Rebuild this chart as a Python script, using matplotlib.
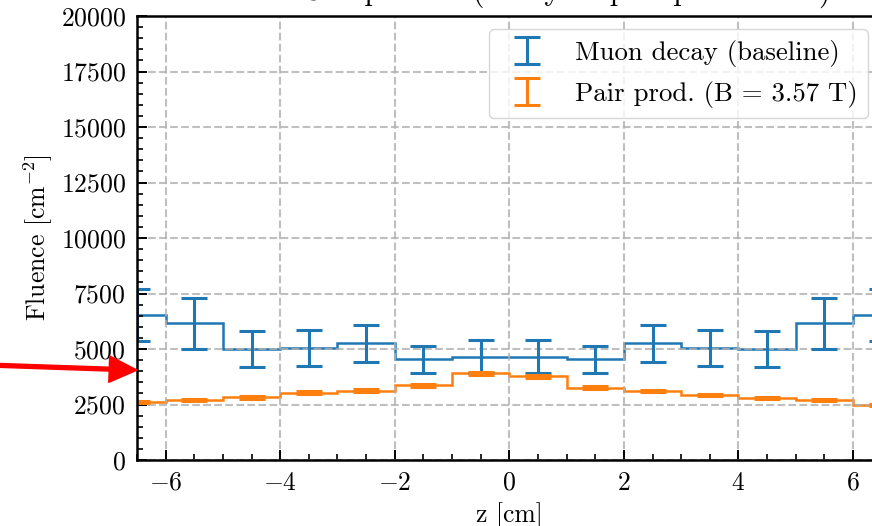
import numpy as np
import matplotlib
matplotlib.use("Agg")
import matplotlib.pyplot as plt

plt.rcParams["font.family"] = "serif"
plt.rcParams["font.serif"] = ["cmr10"]
plt.rcParams["mathtext.fontset"] = "cm"
plt.rcParams["axes.formatter.use_mathtext"] = True
plt.rcParams["font.size"] = 18.5

# bins in z [cm]
edges = np.arange(-7, 8, 1)
centers = 0.5 * (edges[:-1] + edges[1:])

# muon decay (baseline)
muon_fluence = [6550, 6150, 4990, 5050, 5250, 4540, 4660, 4660, 4540, 5250, 5050, 4990, 6150, 6550]
muon_err = [1170, 1140, 820, 810, 830, 610, 750, 750, 610, 830, 810, 820, 1140, 1170]

# pair production, B = 3.57 T
pair_fluence = [2600, 2700, 2820, 3040, 3130, 3360, 3900, 3770, 3260, 3120, 2940, 2790, 2700, 2460]
pair_err = [45, 45, 50, 50, 50, 55, 60, 60, 55, 50, 50, 50, 45, 45]

title = "Fluence Comparison (decay vs pair production)"
arrow_tip = (-6.5, 4050)
arrow_tail = (-9.8, 4340)

fig = plt.figure(figsize=(8.72, 5.26), dpi=100)
ax = fig.add_axes([137 / 872, 66 / 526, 744.7 / 872, 444 / 526])

c1 = "#1f77b4"
c2 = "#ff7f0e"

ax.stairs(muon_fluence, edges, color=c1, lw=1.8)
ax.errorbar(centers, muon_fluence, yerr=muon_err, fmt="none", ecolor=c1,
            elinewidth=2.2, capsize=9.5, capthick=2.2, label="Muon decay (baseline)")
ax.stairs(pair_fluence, edges, color=c2, lw=1.8)
ax.errorbar(centers, pair_fluence, yerr=pair_err, fmt="none", ecolor=c2,
            elinewidth=2.2, capsize=9.5, capthick=2.2, label="Pair prod. (B = 3.57 T)")

ax.set_xlim(-6.5, 6.5)
ax.set_ylim(0, 20000)
ax.set_xticks([-6, -4, -2, 0, 2, 4, 6])
ax.set_xticks(np.arange(-6.5, 6.6, 0.5), minor=True)
ax.set_yticks(np.arange(0, 20001, 2500))
ax.set_yticks(np.arange(0, 20001, 500), minor=True)
ax.tick_params(which="both", direction="in", top=False, right=False)
ax.tick_params(which="major", length=7.2, width=1.4, pad=8)
ax.tick_params(which="minor", length=4.3, width=1.2)
for s in ax.spines.values():
    s.set_linewidth(1.8)

ax.grid(True, which="major", ls="--", color="#b0b0b0", lw=1.5, alpha=0.8)

ax.set_xlabel("z [cm]", labelpad=5)
ax.set_ylabel("Fluence [cm$^{-2}$]", labelpad=4)
ax.text(0.5, 1 + 16 / 444, title, transform=ax.transAxes, ha="center", va="baseline",
        fontsize=22.2)

ax.legend(loc="upper right", framealpha=0.8, fontsize=19.3)

ax.annotate("", xy=arrow_tip, xytext=arrow_tail, xycoords="data", textcoords="data",
            annotation_clip=False,
            arrowprops=dict(color="red", width=2.8, headwidth=19, headlength=20, shrink=0))

fig.savefig("out.png", dpi=100)
